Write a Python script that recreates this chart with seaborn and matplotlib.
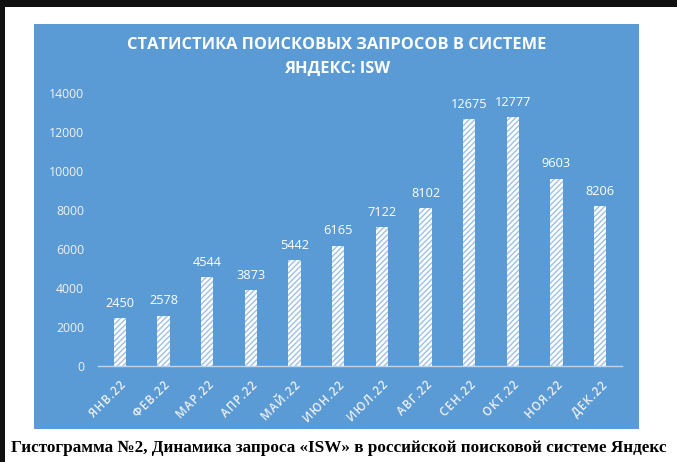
import matplotlib
matplotlib.use("Agg")
import matplotlib.pyplot as plt
import seaborn as sns
import pandas as pd
from matplotlib.patches import Rectangle

months = ["ЯНВ.22", "ФЕВ.22", "МАР.22", "АПР.22", "МАЙ.22", "ИЮН.22",
          "ИЮЛ.22", "АВГ.22", "СЕН.22", "ОКТ.22", "НОЯ.22", "ДЕК.22"]
queries = [2450, 2578, 4544, 3873, 5442, 6165, 7122, 8102, 12675, 12777, 9603, 8206]
yticks = [0, 2000, 4000, 6000, 8000, 10000, 12000, 14000]
title = "СТАТИСТИКА ПОИСКОВЫХ ЗАПРОСОВ В СИСТЕМЕ\nЯНДЕКС: ISW"
caption = "Гистограмма №2, Динамика запроса «ISW» в российской поисковой системе Яндекс"

sns.set_theme(style="white")
plt.rcParams["font.family"] = ["Open Sans", "DejaVu Sans"]
plt.rcParams["hatch.color"] = "#9dc0e6"
plt.rcParams["hatch.linewidth"] = 1.0

W, H = 677, 462
fig = plt.figure(figsize=(W / 100, H / 100), dpi=100, facecolor="white")

# dark frame (top and left edges)
fig.patches.append(Rectangle((0, 1 - 7 / H), 1, 7 / H, transform=fig.transFigure,
                             facecolor="#111111", edgecolor="none", zorder=-5))
fig.patches.append(Rectangle((0, 0), 5 / W, 1, transform=fig.transFigure,
                             facecolor="#111111", edgecolor="none", zorder=-5))
# blue chart panel
fig.patches.append(Rectangle((34 / W, 1 - 429 / H), (639 - 34) / W, (429 - 24) / H,
                             transform=fig.transFigure, facecolor="#5b9bd5",
                             edgecolor="none", zorder=-5))

ax = fig.add_axes([98 / W, 1 - 366 / H, (622 - 98) / W, (366 - 93) / H])
ax.patch.set_alpha(0)
ax.set_zorder(1)

df = pd.DataFrame({"month": months, "queries": queries})
sns.barplot(data=df, x="month", y="queries", ax=ax, color="white", width=0.28,
            saturation=1, edgecolor="#9dc0e6", linewidth=0)
for p in ax.patches:
    p.set_hatch("//////")
    p.set_facecolor("white")

ax.set_ylim(0, 14000)
ax.set_xlim(-0.5, 11.5)
ax.set_yticks(yticks)
ax.set_yticklabels([str(v) for v in yticks], color="#f2f2f2", fontsize=8.8)
ax.tick_params(axis="y", length=0, pad=10)
ax.set_xticks(range(len(months)))
spaced = ["\u200a".join(m) for m in months]
ax.set_xticklabels(spaced, rotation=45, ha="right", rotation_mode="anchor",
                   color="#f2f2f2", fontsize=8.3, fontweight="semibold")
ax.tick_params(axis="x", length=0, pad=9)
ax.set_xticks([i - 0.5 for i in range(len(months) + 1)], minor=True)
ax.tick_params(axis="x", which="minor", length=4, color="#c0d4ea", width=1)
ax.set_xlabel("")
ax.set_ylabel("")
for s in ["top", "right", "left"]:
    ax.spines[s].set_visible(False)
ax.spines["bottom"].set_color("#c0d4ea")
ax.spines["bottom"].set_linewidth(1)

for i, v in enumerate(queries):
    ax.annotate(str(v), (i, v), xytext=(0, 6), textcoords="offset points",
                ha="center", va="bottom", color="white", fontsize=9.2)

fig.text(337 / W, 1 - 57 / H, title, ha="center", va="center", color="white",
         fontsize=11.8, fontweight="bold", linespacing=1.65)

fig.text(339 / W, 1 - 448 / H, caption, ha="center", va="center", color="black",
         fontsize=12.3, fontweight="bold", family=["Liberation Serif", "DejaVu Serif"])

fig.savefig("out.png", dpi=100, facecolor="white")
